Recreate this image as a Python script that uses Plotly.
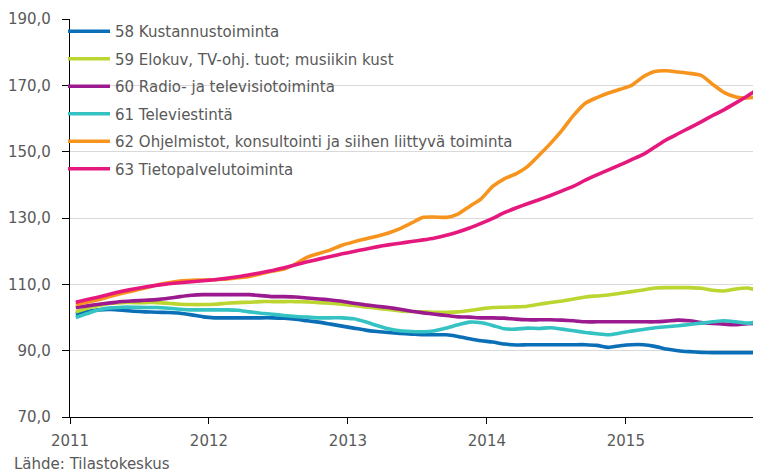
import plotly.graph_objects as go

months = [m + 0.5 for m in range(60)]  # month positions, Jan 2011 .. Dec 2015 (mid-month)
year_ticks = [0, 12, 24, 36, 48]
year_labels = ["2011", "2012", "2013", "2014", "2015"]

names = [
    "58 Kustannustoiminta",
    "59 Elokuv, TV-ohj. tuot; musiikin kust",
    "60 Radio- ja televisiotoiminta",
    "61 Televiestintä",
    "62 Ohjelmistot, konsultointi ja siihen liittyvä toiminta",
    "63 Tietopalvelutoiminta",
]
colors = ["#0a6fb7", "#bcd530", "#9b1a8f", "#35c2c2", "#f7941d", "#e5197d"]

s58 = [101.0, 101.8, 102.3, 102.4, 102.2, 101.9, 101.7, 101.6, 101.5, 101.3, 100.8, 100.2,
       99.9, 99.9, 99.9, 99.9, 99.9, 99.9, 99.8, 99.5, 99.0, 98.6, 98.0, 97.4,
       96.8, 96.2, 95.8, 95.5, 95.2, 95.0, 94.8, 94.8, 94.8, 94.3, 93.6, 93.0,
       92.6, 92.0, 91.7, 91.8, 91.8, 91.8, 91.8, 91.8, 91.8, 91.6, 91.0, 91.5,
       91.8, 91.8, 91.3, 90.5, 90.0, 89.7, 89.5, 89.4, 89.4, 89.4, 89.4, 89.4]
s59 = [101.7, 102.8, 103.6, 104.3, 104.5, 104.5, 104.5, 104.5, 104.3, 104.0, 103.9, 103.9,
       104.0, 104.3, 104.5, 104.6, 104.8, 104.8, 104.8, 104.8, 104.7, 104.5, 104.3, 104.0,
       103.6, 103.2, 102.8, 102.4, 102.0, 101.8, 101.7, 101.6, 101.6, 101.7, 102.1, 102.6,
       103.0, 103.1, 103.2, 103.4, 104.0, 104.5, 105.0, 105.6, 106.2, 106.5, 106.8, 107.3,
       107.8, 108.3, 108.9, 109.0, 109.0, 109.0, 108.8, 108.2, 108.0, 108.6, 108.9, 108.0]
s60 = [103.0, 103.5, 104.0, 104.4, 104.8, 105.0, 105.2, 105.4, 105.8, 106.3, 106.7, 106.9,
       106.9, 106.9, 106.9, 106.9, 106.6, 106.3, 106.3, 106.2, 105.9, 105.6, 105.3, 104.9,
       104.3, 103.8, 103.4, 103.0, 102.5, 101.9, 101.4, 101.0, 100.6, 100.2, 100.1, 99.9,
       99.9, 99.8, 99.5, 99.3, 99.3, 99.3, 99.2, 99.0, 98.7, 98.7, 98.7, 98.7,
       98.7, 98.7, 98.7, 98.9, 99.2, 99.0, 98.5, 98.2, 98.0, 97.8, 98.1, 98.4]
s61 = [100.0, 101.2, 102.3, 102.9, 103.1, 103.1, 103.0, 103.0, 102.8, 102.5, 102.3, 102.3,
       102.3, 102.3, 102.2, 101.7, 101.3, 101.0, 100.6, 100.3, 100.1, 99.9, 99.9, 99.9,
       99.6, 98.7, 97.6, 96.6, 96.0, 95.8, 95.7, 96.0, 96.8, 97.8, 98.6, 98.4,
       97.6, 96.6, 96.5, 96.8, 96.7, 96.9, 96.5, 96.0, 95.5, 95.1, 94.8, 95.3,
       95.9, 96.4, 96.9, 97.2, 97.5, 97.9, 98.3, 98.7, 99.0, 98.7, 98.3, 98.7]
s62 = [103.9, 104.6, 105.4, 106.4, 107.3, 108.1, 108.9, 109.8, 110.5, 111.0, 111.2, 111.3,
       111.4, 111.6, 112.0, 112.4, 113.2, 114.0, 114.6, 116.2, 118.2, 119.3, 120.4, 121.8,
       122.8, 123.7, 124.5, 125.5, 126.8, 128.5, 130.2, 130.3, 130.2, 131.2, 133.5, 135.8,
       139.5, 141.8, 143.3, 145.5, 148.9, 152.5, 156.5, 161.0, 164.6, 166.3, 167.7, 168.8,
       170.0, 172.6, 174.2, 174.4, 174.0, 173.6, 173.0, 170.3, 167.8, 166.5, 166.2, 166.6]
s63 = [104.6, 105.4, 106.2, 107.1, 107.9, 108.6, 109.2, 109.7, 110.2, 110.5, 110.8, 111.1,
       111.4, 111.8, 112.3, 112.9, 113.5, 114.2, 115.0, 115.9, 116.8, 117.6, 118.4, 119.2,
       119.9, 120.6, 121.3, 121.9, 122.4, 122.9, 123.4, 124.0, 124.8, 125.8, 127.0, 128.4,
       129.9, 131.6, 133.0, 134.3, 135.5, 136.8, 138.2, 139.6, 141.4, 143.0, 144.5, 146.0,
       147.6, 149.2, 151.4, 153.6, 155.4, 157.2, 159.0, 160.9, 162.7, 164.7, 166.8, 169.0]

series = [s58, s59, s60, s61, s62, s63]

FONT = "DejaVu Sans"
TXT = "#595959"
fig = go.Figure()
for i, (nm, col, vals) in enumerate(zip(names, colors, series)):
    fig.add_trace(go.Scatter(
        x=months, y=vals, name=nm, mode="lines",
        line=dict(color=col, width=3.6, shape="spline", smoothing=0.6),
        legendgroup=f"g{i}",
    ))

PW, PH = 691, 398  # plot area size in px
fig.update_layout(
    width=753, height=464,
    margin=dict(l=62, r=0, t=11, b=55),
    paper_bgcolor="white", plot_bgcolor="white",
    separators=", ",
    font=dict(family=FONT, size=15, color=TXT),
    showlegend=True,
    legend=dict(
        x=-7 / PW, y=1 + 4 / PH, xanchor="left", yanchor="top",
        bgcolor="rgba(0,0,0,0)",
        font=dict(family=FONT, size=15, color=TXT),
        traceorder="grouped", tracegroupgap=5,
        itemwidth=42,
    ),
    xaxis=dict(
        range=[0, 59.67],
        tickmode="array", tickvals=year_ticks, ticktext=year_labels,
        showgrid=False, zeroline=False,
        showline=True, linecolor="#000000", linewidth=1.3,
        ticks="outside", ticklen=6, tickcolor="#000000",
        ticklabelstandoff=4,
        tickfont=dict(family=FONT, size=15, color=TXT),
    ),
    yaxis=dict(
        range=[70, 190], dtick=20, tick0=70,
        tickformat=".1f",
        showgrid=True, gridcolor="#d9d9d9", gridwidth=1,
        zeroline=False,
        showline=True, linecolor="#000000", linewidth=1.3,
        ticks="outside", ticklen=7, tickcolor="#000000",
        ticklabelstandoff=8,
        tickfont=dict(family=FONT, size=15, color=TXT),
    ),
    annotations=[dict(
        text="Lähde: Tilastokeskus", xref="paper", yref="paper",
        x=-58 / PW, y=-36 / PH, xanchor="left", yanchor="top",
        showarrow=False, font=dict(family=FONT, size=15, color=TXT),
    )],
)

fig.write_html("out.html")
